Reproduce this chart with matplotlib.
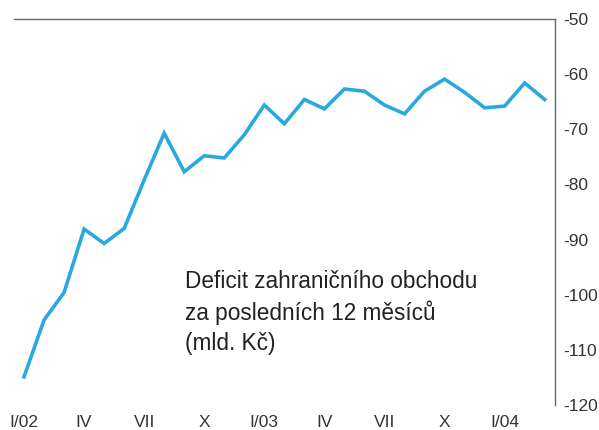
import matplotlib.pyplot as plt

# monthly values I/2002 .. III/2004, mld. Kc
values = [-114.9, -104.6, -99.6, -88.1, -90.7, -88.0, -79.2, -70.7, -77.7,
          -74.8, -75.2, -71.0, -65.6, -69.0, -64.6, -66.3, -62.7, -63.1,
          -65.6, -67.2, -63.1, -60.9, -63.3, -66.1, -65.8, -61.6, -64.6]
months = list(range(len(values)))
xtick_pos = [0, 3, 6, 9, 12, 15, 18, 21, 24]
xtick_labels = ['I/02', 'IV', 'VII', 'X', 'I/03', 'IV', 'VII', 'X', 'I/04']
yticks = [-50, -60, -70, -80, -90, -100, -110, -120]

plt.rcParams['font.family'] = ['Liberation Sans', 'DejaVu Sans']
plt.rcParams['axes.unicode_minus'] = False

fig = plt.figure(figsize=(5.99, 4.30), dpi=100)
ax = fig.add_axes([14/599, 1-405/430, (554.7-14)/599, (405-19)/430])

ax.plot(months, values, color='#2aa8e0', lw=2.6, solid_joinstyle='miter')

ax.set_xlim(-0.5, 26.5)
ax.set_ylim(-120, -50)
ax.set_xticks(xtick_pos)
ax.set_xticklabels(xtick_labels)
ax.set_yticks(yticks)
ax.yaxis.tick_right()
ax.tick_params(axis='y', length=0, pad=6, labelsize=12.5, labelcolor='#333333')
ax.tick_params(axis='x', length=0, pad=7, labelsize=12.5, labelcolor='#333333')

for s in ['left', 'bottom']:
    ax.spines[s].set_visible(False)
for s in ['top', 'right']:
    ax.spines[s].set_color('#666666')
    ax.spines[s].set_linewidth(1.0)

ax.text(0.316, 0.24, 'Deficit zahraničního obchodu\nza posledních 12 měsíců\n(mld. Kč)',
        transform=ax.transAxes, fontsize=16.3, color='#222222',
        va='center', ha='left', linespacing=1.4)

fig.savefig('out.png', dpi=100)
